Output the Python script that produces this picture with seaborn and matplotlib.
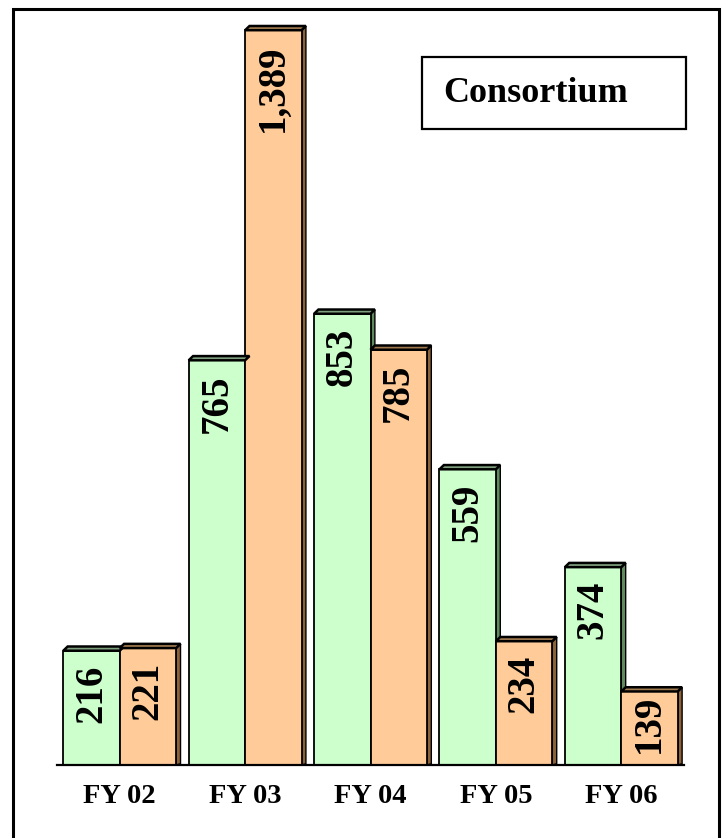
import matplotlib

matplotlib.use("Agg")
import matplotlib.pyplot as plt
import pandas as pd
import seaborn as sns
from matplotlib.patches import Polygon, Rectangle

years = ["FY 02", "FY 03", "FY 04", "FY 05", "FY 06"]
series_names = ["series 1", "series 2"]
values_1 = [216, 765, 853, 559, 374]
values_2 = [221, 1389, 785, 234, 139]
labels_1 = ["216", "765", "853", "559", "374"]
labels_2 = ["221", "1,389", "785", "234", "139"]
title_text = "Consortium"

face_colors = ["#CCFFCC", "#FFCC99"]
side_colors = ["#5E8A5E", "#8C6239"]
top_colors = ["#7FA07F", "#A07A4E"]

df = pd.DataFrame({
    "year": years * 2,
    "series": [series_names[0]] * len(years) + [series_names[1]] * len(years),
    "value": values_1 + values_2,
    "label": labels_1 + labels_2,
})

sns.set_theme(style="white")
plt.rcParams["font.family"] = ["Liberation Serif", "DejaVu Serif"]
plt.rcParams["text.color"] = "black"
plt.rcParams["xtick.color"] = "black"

W, H = 727, 838
fig = plt.figure(figsize=(W / 100, H / 100), dpi=100)
ax = fig.add_axes([57 / W, (H - 765) / H, 627 / W, 740.6 / H])

sns.barplot(data=df, x="year", y="value", hue="series", order=years,
            hue_order=series_names, palette=face_colors, saturation=1,
            width=0.9, gap=0, edgecolor="black", linewidth=1.3,
            legend=False, ax=ax)
ax.set_xlim(-0.5, len(years) - 0.5)
ax.set_ylim(0, 1400)

# fake 3D depth: top face and right side for every bar
dx, dy = 0.035, 8.0
bars = [p for p in ax.patches if isinstance(p, Rectangle) and p.get_height() > 0]
for i, bar in enumerate(bars):
    k = i // len(years)
    x0, w, h = bar.get_x(), bar.get_width(), bar.get_height()
    x1 = x0 + w
    side = Polygon([(x1, 0), (x1 + dx, dy * 0.3), (x1 + dx, h + dy), (x1, h)],
                   closed=True, facecolor=side_colors[k], edgecolor="black",
                   linewidth=1.0, zorder=bar.get_zorder() - 0.1)
    top = Polygon([(x0, h), (x0 + dx, h + dy), (x1 + dx, h + dy), (x1, h)],
                  closed=True, facecolor=top_colors[k], edgecolor="black",
                  linewidth=1.8, zorder=bar.get_zorder() + 0.1)
    ax.add_patch(side)
    ax.add_patch(top)

# value labels, rotated, near the top of each bar
texts = []
for i, bar in enumerate(bars):
    k = i // len(years)
    j = i % len(years)
    lab = (labels_1 if k == 0 else labels_2)[j]
    t = ax.annotate(lab, (bar.get_x() + bar.get_width() / 2, bar.get_height()),
                    xytext=(0, -10), textcoords="offset points", rotation=90,
                    ha="center", va="top", fontsize=28, fontweight="bold",
                    color="black", zorder=5)
    texts.append(t)

# push short-bar labels up so they stay inside the bar
fig.canvas.draw()
renderer = fig.canvas.get_renderer()
base_px = ax.transData.transform((0, 0))[1]
for t in texts:
    bb = t.get_window_extent(renderer)
    gap = bb.y0 - base_px
    if gap < 12:
        shift_pt = (12 - gap) * 72 / fig.dpi
        t.set_position((0, -10 + shift_pt))

for s in ["left", "top", "right"]:
    ax.spines[s].set_visible(False)
ax.spines["bottom"].set_linewidth(1.6)
ax.spines["bottom"].set_color("black")
ax.set_yticks([])
ax.set_xlabel("")
ax.set_ylabel("")
ax.set_xticks(range(len(years)))
ax.set_xticklabels(years, fontsize=20.5, fontweight="bold", color="black")
ax.tick_params(axis="x", which="major", length=0, pad=14)
ax.set_xticks([x - 0.5 for x in range(len(years) + 1)], minor=True)
ax.tick_params(axis="x", which="minor", direction="out", length=8,
               width=1.6, color="black")

# title box
fig.patches.append(Rectangle((422 / W, 1 - 129 / H), (686 - 422) / W,
                             (129 - 57) / H, transform=fig.transFigure,
                             facecolor="white", edgecolor="black",
                             linewidth=1.6))
fig.text(443 / W, 1 - 93 / H, title_text, fontsize=26, fontweight="bold",
         ha="left", va="center", color="black")

# outer frame
fig.patches.append(Rectangle((13 / W, -0.01), (719 - 13) / W, 1.01 - 9 / H,
                             transform=fig.transFigure, fill=False,
                             edgecolor="black", linewidth=2.2))

fig.savefig("out.png", dpi=100)
